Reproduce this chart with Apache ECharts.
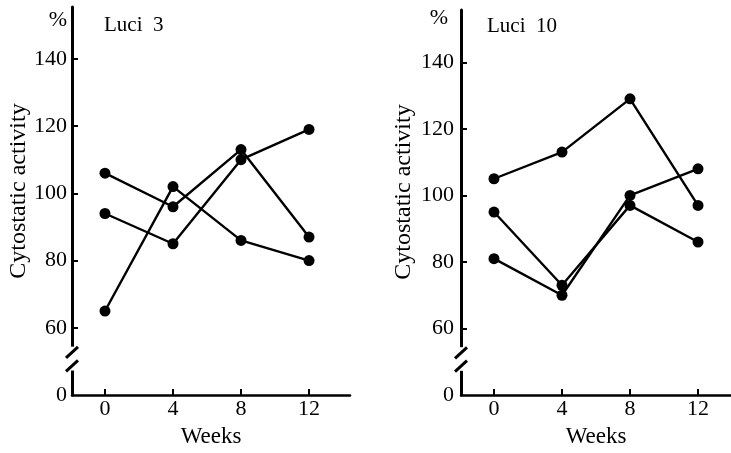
<!DOCTYPE html>
<html>
<head>
<meta charset="utf-8">
<script src="https://cdn.jsdelivr.net/npm/echarts@6/dist/echarts.min.js"></script>
<style>
  html, body { margin: 0; padding: 0; background: #fff; }
  #chart { width: 731px; height: 453px; }
</style>
</head>
<body>
<div id="chart"></div>
<script>
// Sampling times (weeks) and axis tick values
const weeks = [0, 4, 8, 12];
const weekTicks = [0, 4, 8, 12];
const activityTicks = [60, 80, 100, 120, 140];

// Cytostatic activity (%) for Luci 3
const luci3A = [106, 96, 113, 87];
const luci3B = [94, 85, 110, 119];
const luci3C = [65, 102, 86, 80];

// Cytostatic activity (%) for Luci 10
const luci10A = [105, 113, 129, 97];
const luci10B = [95, 73, 97, 86];
const luci10C = [81, 70, 100, 108];

const panelTitles = ['Luci 3', 'Luci 10'];
const yName = 'Cytostatic activity';
const xName = 'Weeks';
const unitLabel = '%';

// The y axis is broken between 0 and 60: the "0" label is drawn one
// 20-unit step below 60, so the scale runs linearly from ZERO_AT upward.
const ZERO_AT = 40;
const FONT = '"Liberation Serif", "Times New Roman", serif';

const panels = [
  { grid: { left: 72, top: 7, width: 278, height: 391 }, xMin: -1.94, xMax: 14.41, yMax: 155.4,
    labelMargin: 5, nameGap: 27, series: [luci3A, luci3B, luci3C],
    unitPos: [67, 20], titlePos: [104, 25], yNamePos: [19, 191] },
  { grid: { left: 461, top: 10, width: 270, height: 390 }, xMin: -1.94, xMax: 13.94, yMax: 155.7,
    labelMargin: 7, nameGap: 26, series: [luci10A, luci10B, luci10C],
    unitPos: [448, 18], titlePos: [487, 26], yNamePos: [404, 192] }
];

const chart = echarts.init(document.getElementById('chart'), null, { renderer: 'canvas' });

const option = {
  animation: false,
  backgroundColor: '#fff',
  grid: panels.map(p => Object.assign({ containLabel: false }, p.grid)),
  xAxis: panels.map((p, i) => ({
    type: 'value', gridIndex: i, min: p.xMin, max: p.xMax,
    axisLine: { show: true, onZero: false, lineStyle: { color: '#000', width: 2.5 } },
    axisTick: { show: true, inside: true, length: 6, customValues: weekTicks, lineStyle: { color: '#000', width: 2 } },
    axisLabel: { customValues: weekTicks, color: '#000', fontFamily: FONT, fontSize: 22, margin: 3 },
    splitLine: { show: false },
    name: xName, nameLocation: 'middle', nameGap: p.nameGap,
    nameTextStyle: { color: '#000', fontFamily: FONT, fontSize: 23 }
  })),
  yAxis: panels.map((p, i) => ({
    type: 'value', gridIndex: i, min: ZERO_AT, max: p.yMax,
    axisLine: { show: true, onZero: false, lineStyle: { color: '#000', width: 3 } },
    axisTick: { show: true, inside: true, length: 6, customValues: activityTicks, lineStyle: { color: '#000', width: 2 } },
    axisLabel: {
      customValues: [ZERO_AT].concat(activityTicks),
      formatter: v => (v === ZERO_AT ? '0' : String(v)),
      color: '#000', fontFamily: FONT, fontSize: 22, margin: p.labelMargin
    },
    splitLine: { show: false }
  })),
  series: []
};

panels.forEach((p, i) => {
  p.series.forEach(vals => {
    option.series.push({
      type: 'line', xAxisIndex: i, yAxisIndex: i,
      data: weeks.map((w, k) => [w, vals[k]]),
      symbol: 'circle', symbolSize: 11,
      lineStyle: { color: '#000', width: 2.4 },
      itemStyle: { color: '#000' },
      z: 3
    });
  });
});

chart.setOption(option);

// Axis-break marks, unit sign, panel titles and rotated y titles
const graphics = [];
panels.forEach((p, i) => {
  const px = v => chart.convertToPixel({ xAxisIndex: i, yAxisIndex: i }, [p.xMin, v]);
  const ax = px(50)[0];
  const gapTop = px(54.4)[1];
  const gapBottom = px(47.3)[1];
  graphics.push({
    type: 'rect', z: 10,
    shape: { x: ax - 3, y: gapTop, width: 6, height: gapBottom - gapTop },
    style: { fill: '#fff' }
  });
  [52.7, 48.7].forEach(v => {
    const c = px(v)[1];
    graphics.push({
      type: 'line', z: 11,
      shape: { x1: ax - 6, y1: c + 5.5, x2: ax + 6, y2: c - 5.5 },
      style: { stroke: '#000', lineWidth: 3 }
    });
  });
  graphics.push({
    type: 'text', z: 12, x: p.unitPos[0], y: p.unitPos[1],
    style: { text: unitLabel, fill: '#000', font: '22px ' + FONT, align: 'right', verticalAlign: 'middle' }
  });
  graphics.push({
    type: 'text', z: 12, x: p.titlePos[0], y: p.titlePos[1],
    style: { text: panelTitles[i].replace(' ', '  '), fill: '#000', font: '21px ' + FONT, align: 'left', verticalAlign: 'middle' }
  });
  graphics.push({
    type: 'text', z: 12, x: p.yNamePos[0], y: p.yNamePos[1], rotation: Math.PI / 2,
    style: { text: yName, fill: '#000', font: '24px ' + FONT, align: 'center', verticalAlign: 'middle' }
  });
});

chart.setOption({ graphic: graphics });
</script>
</body>
</html>
